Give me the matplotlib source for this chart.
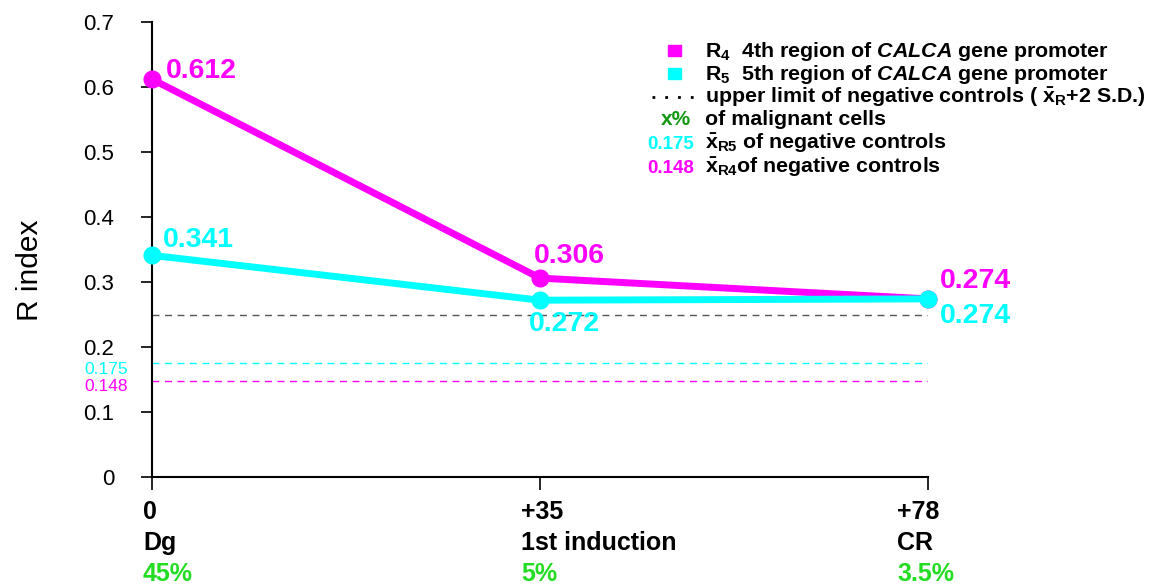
import matplotlib
matplotlib.use("Agg")
import matplotlib.pyplot as plt

plt.rcParams['font.family'] = ['Liberation Sans', 'DejaVu Sans']
plt.rcParams['mathtext.fontset'] = 'custom'
plt.rcParams['mathtext.rm'] = 'Liberation Sans'
plt.rcParams['mathtext.bf'] = 'Liberation Sans:bold'
plt.rcParams['mathtext.it'] = 'Liberation Sans:italic'
plt.rcParams['mathtext.bfit'] = 'Liberation Sans:italic:bold'

# Time points (days), clinical stage and blast percentage
days = ['0', '+35', '+78']
stages = ['Dg', '1st induction', 'CR']
malignant = ['45%', '5%', '3.5%']

r4_values = [0.612, 0.306, 0.274]
r5_values = [0.341, 0.272, 0.274]

upper_limit = 0.25
mean_r5 = 0.175
mean_r4 = 0.148

y_ticks = [0, 0.1, 0.2, 0.3, 0.4, 0.5, 0.6, 0.7]

MAG = '#ff00ff'
CYA = '#00ffff'
GREEN = '#22dd22'
DKGREEN = '#119911'

W, H = 1160, 584
fig = plt.figure(figsize=(W / 100, H / 100), dpi=100)
ax = fig.add_axes([152 / W, 1 - 477 / H, (928 - 152) / W, (477 - 22) / H])

xs = list(range(len(days)))

ax.plot(xs, r4_values, color=MAG, lw=5, marker='o', ms=12, zorder=3, clip_on=False)
ax.plot(xs, r5_values, color=CYA, lw=5, marker='o', ms=12, zorder=4, clip_on=False)

ax.axhline(upper_limit, color='#555555', lw=1, ls=(0, (5, 4)), zorder=2)
ax.axhline(mean_r5, color=CYA, lw=1, ls=(0, (5, 4)), zorder=2)
ax.axhline(mean_r4, color=MAG, lw=1, ls=(0, (5, 4)), zorder=2)

ax.set_xlim(0, 2)
ax.set_ylim(0, 0.7)
ax.set_yticks(y_ticks)
ax.set_yticklabels(['0' if v == 0 else f'{v:.1f}' for v in y_ticks], fontsize=16)
ax.set_xticks(xs)
ax.set_xticklabels([])
ax.tick_params(axis='y', direction='out', length=8, width=1.2, pad=19)
ax.tick_params(axis='x', direction='out', length=9, width=1.2)
for s in ['top', 'right']:
    ax.spines[s].set_visible(False)
for s in ['left', 'bottom']:
    ax.spines[s].set_linewidth(1.5)

# value labels
lab_kw = dict(fontsize=20.5, fontweight='bold', clip_on=False)
r4_offsets = [(14, 8), (-6, 22), (12, 18)]
r5_offsets = [(11, 15), (-11, -24), (12, -17)]
for i, (v, off) in enumerate(zip(r4_values, r4_offsets)):
    ax.annotate(f'{v:.3f}', (xs[i], v), xytext=off, textcoords='offset pixels',
                color=MAG, ha='left', va='center', **lab_kw)
for i, (v, off) in enumerate(zip(r5_values, r5_offsets)):
    ax.annotate(f'{v:.3f}', (xs[i], v), xytext=off, textcoords='offset pixels',
                color=CYA, ha='left', va='center', **lab_kw)

# mean values of negative controls next to the axis
ax.annotate(f'{mean_r5:.3f}', (0, mean_r5), xytext=(-24, -11), textcoords='offset pixels',
            ha='right', va='baseline', color=CYA, fontsize=12.5, annotation_clip=False)
ax.annotate(f'{mean_r4:.3f}', (0, mean_r4), xytext=(-24, -10), textcoords='offset pixels',
            ha='right', va='baseline', color=MAG, fontsize=12.5, annotation_clip=False)

# three-line category labels under the axis
x_offsets = [-9, -19, -31]
for i in xs:
    for row, (txt, col) in enumerate([(days[i], 'black'), (stages[i], 'black'),
                                      (malignant[i], GREEN)]):
        ax.annotate(txt, (xs[i], 0), xytext=(x_offsets[i], -35 - 31 * row),
                    textcoords='offset pixels', ha='left', va='center',
                    fontsize=18, fontweight='bold', color=col, annotation_clip=False)

def ftext(px, py, s, **kw):
    fig.text(px / W, 1 - py / H, s, **kw)

ftext(30, 270, 'R index', rotation=90, ha='center', va='center', fontsize=21.5)

# legend
leg_kw = dict(fontsize=15.4, fontweight='bold', va='baseline', ha='left')
tx = 705
fig.patches.append(plt.Rectangle((668 / W, 1 - 56 / H), 13 / W, 11 / H,
                                 transform=fig.transFigure, color=MAG))
fig.patches.append(plt.Rectangle((668 / W, 1 - 79 / H), 13 / W, 11 / H,
                                 transform=fig.transFigure, color=CYA))
ftext(tx, 57, r'R$_\mathbf{4}$  4th region of $\mathbfit{CALCA}$ gene promoter', **leg_kw)
ftext(tx, 80, r'R$_\mathbf{5}$  5th region of $\mathbfit{CALCA}$ gene promoter', **leg_kw)
fig.add_artist(plt.Line2D([652 / W, 697 / W], [1 - 97 / H, 1 - 97 / H], color='black',
                          lw=2, ls=(0, (1, 3.6)), transform=fig.transFigure))
ftext(tx, 103, r'upper limit of negative controls ( $\mathbf{\bar{x}_R}$+2 S.D.)', **leg_kw)
ftext(691, 125, 'x%', color=DKGREEN, fontsize=15, fontweight='bold', va='baseline', ha='right')
ftext(tx, 125, 'of malignant cells', **leg_kw)
ftext(694, 149, f'{mean_r5:.3f}', color=CYA, fontsize=13.5, fontweight='bold', va='baseline', ha='right')
ftext(tx, 149, r'$\mathbf{\bar{x}_{R5}}$ of negative controls', **leg_kw)
ftext(694, 173, f'{mean_r4:.3f}', color=MAG, fontsize=13.5, fontweight='bold', va='baseline', ha='right')
ftext(tx, 173, r'$\mathbf{\bar{x}_{R4}}$of negative controls', **leg_kw)

fig.savefig('out.png', dpi=100)
